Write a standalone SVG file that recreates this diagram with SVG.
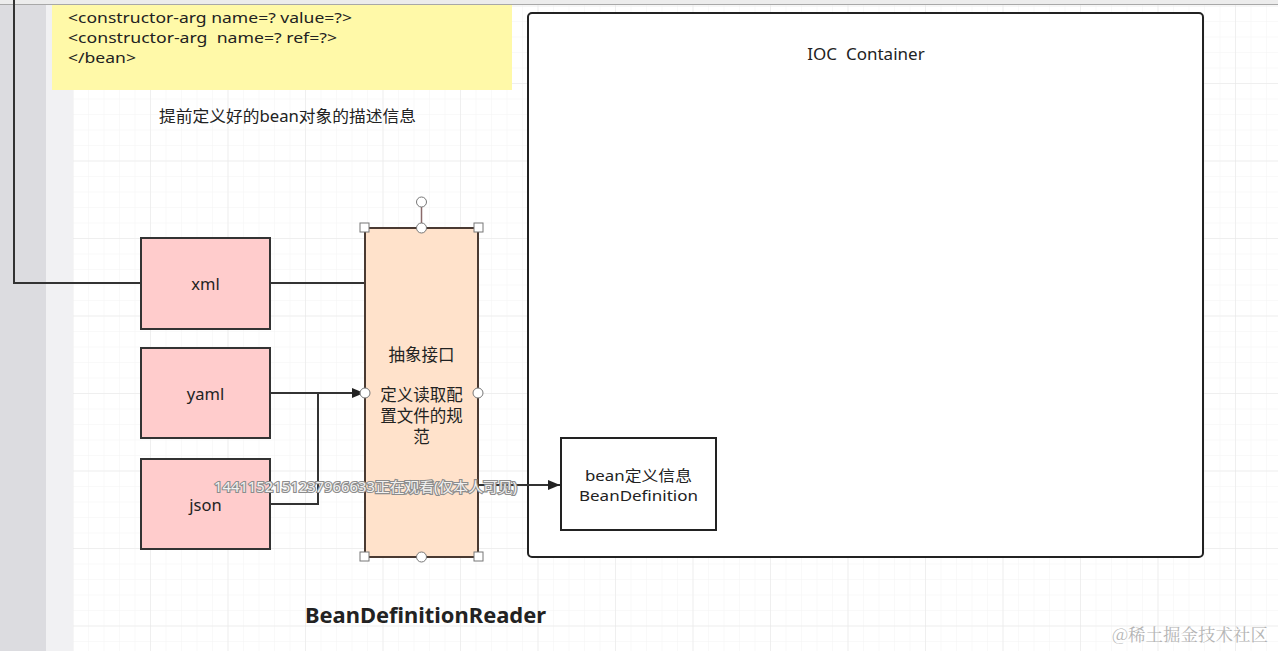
<svg xmlns="http://www.w3.org/2000/svg" width="1278" height="651" viewBox="0 0 1278 651">
<defs>
  <pattern id="minor" x="72.5" y="5.5" width="15.5" height="15.5" patternUnits="userSpaceOnUse">
    <path d="M0 0H15.5M0 0V15.5" fill="none" stroke="#f3f3f3" stroke-width="1"/>
  </pattern>
  <pattern id="major" x="72.5" y="5.5" width="77.5" height="77.5" patternUnits="userSpaceOnUse">
    <path d="M0 0H77.5M0 0V77.5" fill="none" stroke="#e6e6e6" stroke-width="1"/>
  </pattern>
  <marker id="arrow" viewBox="0 0 12 10" refX="12" refY="5" markerWidth="12" markerHeight="10" markerUnits="userSpaceOnUse" orient="auto">
    <path d="M0 0L12 5L0 10z" fill="#222"/>
  </marker>
  <style>
    .t { font-family: "Noto Sans", "Noto Sans CJK SC", sans-serif; fill: #222; }
    .node { fill: #ffcccc; stroke: #333; stroke-width: 2; }
    .conn { fill: none; stroke: #333; stroke-width: 2; }
    .handle { fill: #fff; stroke: #777; stroke-width: 1; }
  </style>
</defs>

<!-- background -->
<rect x="0" y="0" width="1278" height="651" fill="#fff"/>
<rect x="73" y="5" width="1205" height="646" fill="url(#minor)"/>
<rect x="73" y="5" width="1205" height="646" fill="url(#major)"/>
<rect x="0" y="0" width="46" height="651" fill="#dcdce0"/>
<rect x="46" y="0" width="27" height="651" fill="#f1f1f3"/>
<rect x="0" y="0" width="1278" height="4" fill="#ececec"/>
<line x1="0" y1="4.5" x2="1278" y2="4.5" stroke="#a8a8a8" stroke-width="1"/>

<!-- yellow note -->
<g id="note">
  <rect x="52" y="5" width="460" height="85" fill="#fff9a8"/>
  <text class="t" x="68" y="23" font-size="14.5" textLength="284" lengthAdjust="spacingAndGlyphs">&lt;constructor-arg name=? value=?&gt;</text>
  <text class="t" x="68" y="43" font-size="14.5" textLength="269" lengthAdjust="spacingAndGlyphs" xml:space="preserve">&lt;constructor-arg  name=? ref=?&gt;</text>
  <text class="t" x="68" y="63" font-size="14.5" textLength="68" lengthAdjust="spacingAndGlyphs">&lt;/bean&gt;</text>
</g>
<g id="caption">
  <text class="t" x="159" y="122" font-size="16" textLength="257" lengthAdjust="spacingAndGlyphs">提前定义好的bean对象的描述信息</text>
</g>

<!-- IOC container -->
<g id="ioc">
  <rect x="528" y="13" width="675" height="544" rx="4" fill="#fff" stroke="#222" stroke-width="2"/>
  <text class="t" x="866" y="60" font-size="17" text-anchor="middle" xml:space="preserve">IOC  Container</text>
</g>

<!-- connectors -->
<g id="connectors">
  <path class="conn" d="M140 283H14V0"/>
  <path class="conn" d="M270 283H365"/>
  <path class="conn" d="M270 393H364" marker-end="url(#arrow)"/>
  <path class="conn" d="M270 504H318V393"/>
  <path class="conn" d="M478 485H560" marker-end="url(#arrow)"/>
</g>

<!-- source nodes -->
<g id="xml">
  <rect class="node" x="141" y="238" width="129" height="91"/>
  <text class="t" x="205.5" y="290" font-size="16.5" text-anchor="middle">xml</text>
</g>
<g id="yaml">
  <rect class="node" x="141" y="348" width="129" height="90"/>
  <text class="t" x="205.5" y="400" font-size="16.5" text-anchor="middle">yaml</text>
</g>
<g id="json">
  <rect class="node" x="141" y="459" width="129" height="90"/>
  <text class="t" x="205.5" y="511" font-size="16.5" text-anchor="middle">json</text>
</g>

<!-- reader -->
<g id="reader">
  <rect x="365" y="228" width="113" height="329" fill="#ffe2cb" stroke="#4a3a32" stroke-width="2"/>
  <text class="t" x="421.5" y="361" font-size="16.5" text-anchor="middle">抽象接口</text>
  <text class="t" x="421.5" y="401" font-size="16.5" text-anchor="middle">定义读取配</text>
  <text class="t" x="421.5" y="422" font-size="16.5" text-anchor="middle">置文件的规</text>
  <text class="t" x="421.5" y="443" font-size="16.5" text-anchor="middle">范</text>
  <line x1="421.5" y1="207" x2="421.5" y2="228" stroke="#8a6a6a" stroke-width="1.5"/>
  <circle class="handle" cx="421.5" cy="202" r="5" stroke="#8a6a6a" stroke-width="1.5"/>
  <rect class="handle" x="360" y="223" width="9" height="9"/>
  <rect class="handle" x="474" y="223" width="9" height="9"/>
  <rect class="handle" x="360" y="552" width="9" height="9"/>
  <rect class="handle" x="474" y="552" width="9" height="9"/>
  <circle class="handle" cx="421.5" cy="228" r="5"/>
  <circle class="handle" cx="421.5" cy="557" r="5"/>
  <circle class="handle" cx="365" cy="393" r="5"/>
  <circle class="handle" cx="478" cy="393" r="5"/>
</g>
<g id="reader-label">
  <text class="t" x="305" y="623" font-size="21.5" font-weight="bold" textLength="241" lengthAdjust="spacingAndGlyphs">BeanDefinitionReader</text>
</g>

<!-- bean definition -->
<g id="beandef">
  <rect x="561" y="438" width="155" height="92" fill="#fff" stroke="#222" stroke-width="2"/>
  <text class="t" x="585" y="481" font-size="14.5" textLength="107" lengthAdjust="spacingAndGlyphs">bean定义信息</text>
  <text class="t" x="579" y="501" font-size="14.5" textLength="119" lengthAdjust="spacingAndGlyphs">BeanDefinition</text>
</g>

<!-- overlays -->
<g id="watermark">
  <text x="214" y="492" font-size="14" font-family="'Noto Sans', 'Noto Sans CJK SC', sans-serif" fill="#f2f2f2" stroke="#8c8c8c" stroke-width="2.2" paint-order="stroke" textLength="303" lengthAdjust="spacingAndGlyphs">1441152151237966633正在观看(仅本人可见)</text>
  <text x="1112" y="641" font-size="17.5" font-family="'Noto Serif CJK SC', 'Noto Sans CJK SC', serif" fill="#b4b4b4">@稀土掘金技术社区</text>
</g>
</svg>
